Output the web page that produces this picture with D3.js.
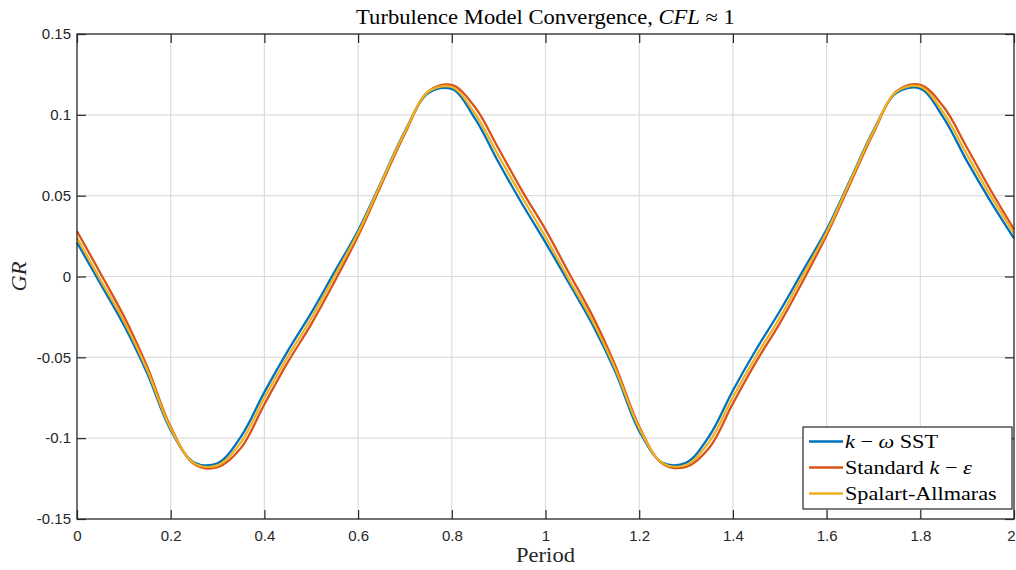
<!DOCTYPE html>
<html>
<head>
<meta charset="utf-8">
<script src="https://cdn.jsdelivr.net/npm/d3@7"></script>
<style>
  body { margin: 0; background: #fff; }
  svg { display: block; }
</style>
</head>
<body>
<svg id="chart" width="1016" height="570"></svg>
<script>
// period samples
var period = [0, 0.05, 0.1, 0.15, 0.2, 0.25, 0.3, 0.35, 0.4, 0.45, 0.5, 0.55, 0.6, 0.65, 0.7, 0.75, 0.8, 0.85, 0.9, 0.95,
              1, 1.05, 1.1, 1.15, 1.2, 1.25, 1.3, 1.35, 1.4, 1.45, 1.5, 1.55, 1.6, 1.65, 1.7, 1.75, 1.8, 1.85, 1.9, 1.95, 2];

var kwSST = [0.0210, -0.0045, -0.0300, -0.0600, -0.0950, -0.1150, -0.1155, -0.0990, -0.0715, -0.0460,
             -0.0225, 0.0030, 0.0285, 0.0590, 0.0900, 0.1135, 0.1160, 0.0975, 0.0705, 0.0450,
             0.0210, -0.0040, -0.0295, -0.0595, -0.0955, -0.1152, -0.1152, -0.0985, -0.0705, -0.0450,
             -0.0215, 0.0038, 0.0290, 0.0595, 0.0905, 0.1138, 0.1162, 0.0980, 0.0712, 0.0465, 0.0236];

var stdKE = [0.0280, 0.0020, -0.0245, -0.0560, -0.0930, -0.1160, -0.1180, -0.1060, -0.0790, -0.0530,
             -0.0295, -0.0030, 0.0250, 0.0570, 0.0885, 0.1145, 0.1185, 0.1045, 0.0790, 0.0530,
             0.0290, 0.0022, -0.0242, -0.0558, -0.0928, -0.1158, -0.1178, -0.1058, -0.0785, -0.0525,
             -0.0290, -0.0025, 0.0255, 0.0572, 0.0888, 0.1148, 0.1186, 0.1048, 0.0795, 0.0535, 0.0292];

var spalart = [0.0240, -0.0020, -0.0275, -0.0580, -0.0940, -0.1155, -0.1168, -0.1025, -0.0750, -0.0495,
               -0.0260, 0.0005, 0.0270, 0.0585, 0.0895, 0.1143, 0.1172, 0.1005, 0.0745, 0.0490,
               0.0245, -0.0018, -0.0272, -0.0578, -0.0938, -0.1155, -0.1166, -0.1020, -0.0745, -0.0490,
               -0.0255, 0.0010, 0.0274, 0.0588, 0.0898, 0.1145, 0.1174, 0.1010, 0.0752, 0.0500, 0.0267];

var xTicks = [0, 0.2, 0.4, 0.6, 0.8, 1, 1.2, 1.4, 1.6, 1.8, 2];
var yTicks = [-0.15, -0.1, -0.05, 0, 0.05, 0.1, 0.15];

var series = [
  { name: 'kw', values: kwSST, color: '#0072BD' },
  { name: 'ke', values: stdKE, color: '#D95319' },
  { name: 'sa', values: spalart, color: '#EDB120' }
];

var mLeft = 77, mRight = 1014, mTop = 34, mBottom = 519;
var ink = '#262626';
var serif = "'Liberation Serif', 'DejaVu Serif', serif";
var sans = "'Liberation Sans', Arial, sans-serif";
var stretch = 1.13; // the LaTeX font is a bit wider than Times

var x = d3.scaleLinear().domain([0, 2]).range([mLeft, mRight]);
var y = d3.scaleLinear().domain([-0.15, 0.15]).range([mBottom, mTop]);

var svg = d3.select('#chart');

// grid
var grid = svg.append('g').attr('stroke', '#dcdcdc').attr('stroke-width', 1.2);
grid.selectAll('.gx').data(xTicks.slice(1, -1)).enter().append('line')
    .attr('x1', function(d) { return x(d); }).attr('x2', function(d) { return x(d); })
    .attr('y1', mTop).attr('y2', mBottom);
grid.selectAll('.gy').data(yTicks.slice(1, -1)).enter().append('line')
    .attr('y1', function(d) { return y(d); }).attr('y2', function(d) { return y(d); })
    .attr('x1', mLeft).attr('x2', mRight);

// curves
var line = d3.line()
    .x(function(d, i) { return x(period[i]); })
    .y(function(d) { return y(d); })
    .curve(d3.curveCatmullRom.alpha(0.5));

svg.append('g').selectAll('path').data(series).enter().append('path')
    .attr('d', function(d) { return line(d.values); })
    .attr('fill', 'none')
    .attr('stroke', function(d) { return d.color; })
    .attr('stroke-width', 2.3)
    .attr('stroke-linejoin', 'round');

// axes, ticks inward and mirrored
function styleAxis(g) {
  g.select('.domain').remove();
  g.selectAll('line').attr('stroke', ink).attr('stroke-width', 1.2);
  g.selectAll('text').attr('fill', ink).attr('font-family', sans).attr('font-size', 15);
}
var fmt = function(d) { return String(d); };

var xb = svg.append('g').attr('transform', 'translate(0,' + mBottom + ')')
    .call(d3.axisBottom(x).tickValues(xTicks).tickFormat(fmt).tickSizeInner(-9).tickSizeOuter(0).tickPadding(11))
    .call(styleAxis);
xb.selectAll('text').filter(function(d) { return d === 2; }).attr('dx', -3);

svg.append('g').attr('transform', 'translate(0,' + mTop + ')')
    .call(d3.axisTop(x).tickValues(xTicks).tickFormat('').tickSizeInner(-9).tickSizeOuter(0))
    .call(styleAxis);
svg.append('g').attr('transform', 'translate(' + mLeft + ',0)')
    .call(d3.axisLeft(y).tickValues(yTicks).tickFormat(fmt).tickSizeInner(-9).tickSizeOuter(0).tickPadding(6))
    .call(styleAxis);
svg.append('g').attr('transform', 'translate(' + mRight + ',0)')
    .call(d3.axisRight(y).tickValues(yTicks).tickFormat('').tickSizeInner(-9).tickSizeOuter(0))
    .call(styleAxis);

svg.append('rect')
    .attr('x', mLeft).attr('y', mTop).attr('width', mRight - mLeft).attr('height', mBottom - mTop)
    .attr('fill', 'none').attr('stroke', ink).attr('stroke-width', 1.3);

// title
var title = svg.append('text')
    .attr('transform', 'translate(' + ((mLeft + mRight) / 2) + ',24) scale(' + stretch + ',1)')
    .attr('text-anchor', 'middle')
    .attr('font-family', serif).attr('font-size', 20).attr('fill', '#000');
title.append('tspan').text('Turbulence Model Convergence, ');
title.append('tspan').attr('font-style', 'italic').text('CFL');
title.append('tspan').text(' \u2248 1');

// axis labels
svg.append('text')
    .attr('transform', 'translate(' + ((mLeft + mRight) / 2) + ',562) scale(' + stretch + ',1)')
    .attr('text-anchor', 'middle')
    .attr('font-family', serif).attr('font-size', 20).attr('fill', ink)
    .text('Period');
svg.append('text')
    .attr('transform', 'translate(26,' + ((mTop + mBottom) / 2) + ') rotate(-90) scale(' + stretch + ',1)')
    .attr('text-anchor', 'middle')
    .attr('font-family', serif).attr('font-size', 20).attr('font-style', 'italic').attr('fill', ink)
    .text('GR');

// legend
var lg = svg.append('g');
lg.append('rect')
    .attr('x', 803).attr('y', 427).attr('width', 209).attr('height', 82)
    .attr('fill', '#fff').attr('stroke', ink).attr('stroke-width', 1.2);

var labels = [
  [['k', true], [' \u2212 ', false], ['\u03C9', true], [' SST', false]],
  [['Standard ', false], ['k', true], [' \u2212 ', false], ['\u03B5', true]],
  [['Spalart-Allmaras', false]]
];

var rows = lg.selectAll('.row').data(series).enter().append('g')
    .attr('transform', function(d, i) { return 'translate(0,' + (441.5 + i * 26) + ')'; });
rows.append('line')
    .attr('x1', 809).attr('x2', 843).attr('y1', 0).attr('y2', 0)
    .attr('stroke', function(d) { return d.color; }).attr('stroke-width', 2.3);
rows.append('text')
    .attr('transform', 'translate(845,6.5) scale(1.17,1)')
    .attr('font-family', serif).attr('font-size', 19).attr('fill', '#000')
    .each(function(d, i) {
      var t = d3.select(this);
      labels[i].forEach(function(p) {
        t.append('tspan').attr('font-style', p[1] ? 'italic' : 'normal').text(p[0]);
      });
    });
</script>
</body>
</html>
